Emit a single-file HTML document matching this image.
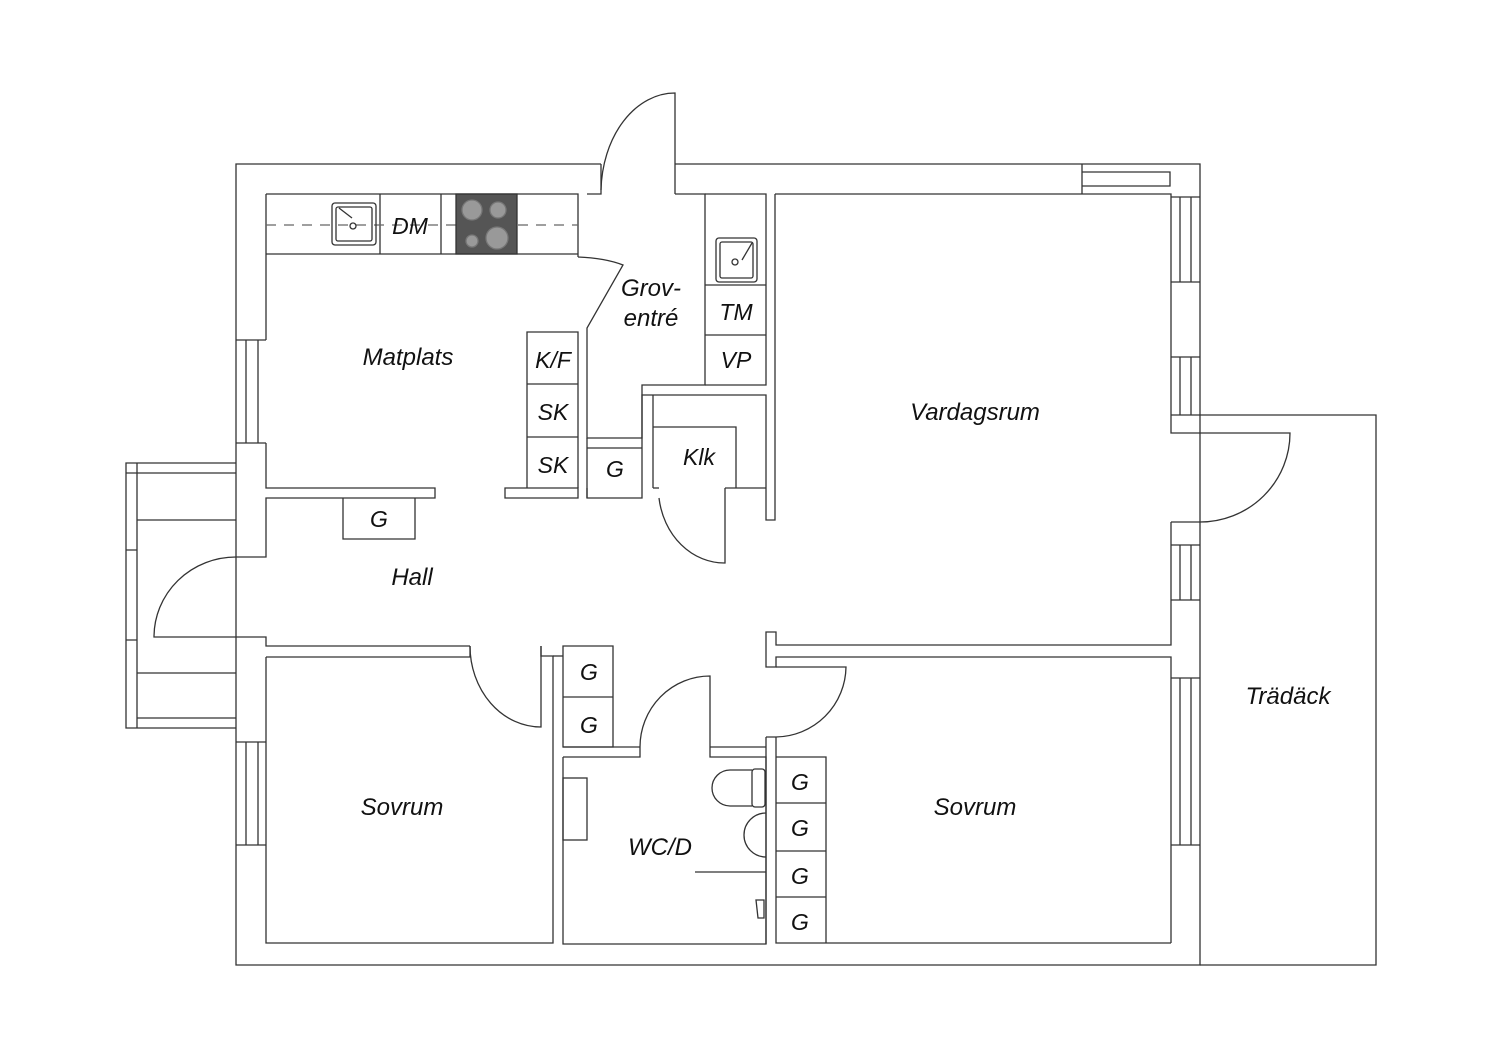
<!DOCTYPE html>
<html><head><meta charset="utf-8"><style>
html,body{margin:0;padding:0;background:#fff}
svg{display:block}
text{font-family:"Liberation Sans",sans-serif;font-style:italic;fill:#111}
</style></head><body>
<svg width="1500" height="1060" viewBox="0 0 1500 1060" xmlns="http://www.w3.org/2000/svg">
<g fill="none" stroke="#333" stroke-width="1.3">
<path d="M601,164 H236 V965 H1200 V164 H675"/>
<path d="M675,194 V93 A74,100 0 0 0 601,190"/>
<path d="M601,164 V194 H587"/>
<path d="M266,194 H578 V257"/>
<path d="M266,194 V340"/>
<path d="M266,443 V488 H435 V498 H266 V557 H236"/>
<path d="M236,340 H266 M236,443 H266 M246,340 V443 M258,340 V443"/>
<path d="M266,254 H578"/>
<path d="M380,194 V254 M441,194 V254"/>
<path d="M266,225 H578" stroke-dasharray="10,8" stroke="#666"/>
<rect x="332" y="203" width="44" height="42" rx="3"/>
<rect x="336" y="207" width="36" height="34" rx="2"/>
<circle cx="353" cy="226" r="3"/>
<path d="M339,208 L352,218"/>
<rect x="456" y="194" width="61" height="60" fill="#555" stroke="#333"/>
<circle cx="472" cy="210" r="10" fill="#999" stroke="#777"/>
<circle cx="498" cy="210" r="8" fill="#999" stroke="#777"/>
<circle cx="472" cy="241" r="6" fill="#999" stroke="#777"/>
<circle cx="497" cy="238" r="11" fill="#999" stroke="#777"/>
<path d="M578,257 Q605,258 623,265 L587,328 V438 H642 V385 H705 V194 H675"/>
<path d="M705,194 H766 V385 H705"/>
<path d="M705,285 H766 M705,335 H766"/>
<rect x="716" y="238" width="41" height="44" rx="3"/>
<rect x="720" y="242" width="33" height="36" rx="2"/>
<circle cx="735" cy="262" r="3"/>
<path d="M742,260 L752,243"/>
<path d="M527,488 V332 H578 V488 M527,384 H578 M527,437 H578"/>
<path d="M505,488 H578 V498 H505 Z"/>
<path d="M587,448 H642 M587,488 V498 H642 V395 H766 V520 H775 V194"/>
<path d="M587,438 V498"/>
<path d="M653,395 V488 M653,427 H736 V488 M725,488 H766"/>
<path d="M653,488 H659"/>
<path d="M725,488 V563 A66,75 0 0 1 659,498"/>
<path d="M343,498 V539 H415 V498"/>
<path d="M775,194 H1171 V433 H1200 M1171,522 H1200 M1171,522 V645 H776 V632 H766 V667 H776 V657 H1171 V943"/>
<path d="M1082,164 V194 M1082,172 H1170 V186 H1082"/>
<path d="M1171,197 H1200 M1171,282 H1200 M1180,197 V282 M1191,197 V282"/>
<path d="M1171,357 H1200 M1171,415 H1200 M1180,357 V415 M1191,357 V415"/>
<path d="M1171,545 H1200 M1171,600 H1200 M1180,545 V600 M1191,545 V600"/>
<path d="M1171,678 H1200 M1171,845 H1200 M1180,678 V845 M1191,678 V845"/>
<path d="M1200,415 H1376 V965 H1200"/>
<path d="M1200,433 H1290 A90,89 0 0 1 1200,522"/>
<path d="M236,463 H126 V728 H236 M137,463 V728 M137,520 H236 M137,673 H236 M137,718 H236 M126,473 H236 M126,550 H137 M126,640 H137"/>
<path d="M236,557 A82,80 0 0 0 154,637 H266 V646 H470"/>
<path d="M266,657 V943 H553 V656 H541 V646"/>
<path d="M266,657 H470 V646"/>
<path d="M541,646 V727 A71,81 0 0 1 470,646"/>
<path d="M563,646 H613 V747 H563 Z M563,697 H613"/>
<path d="M553,656 H563"/>
<path d="M563,747 H640 M563,757 H640 V747 M640,747 A70,71 0 0 1 710,676 V757 H766 V944 H563 V757"/>
<path d="M710,747 H766"/>
<rect x="563" y="778" width="24" height="62"/>
<path d="M752,770 H730 A18,18 0 0 0 730,806 H752"/>
<rect x="752" y="769" width="13" height="38" rx="3"/>
<path d="M766,813 A22,22 0 0 0 766,857"/>
<path d="M695,872 H766"/>
<path d="M756,900 h8 v18 h-6 z"/>
<path d="M766,737 V944 M776,737 V943 H1171"/>
<path d="M776,667 H846 A71,71 0 0 1 776,737 H766"/>
<path d="M776,757 H826 V943 M776,803 H826 M776,851 H826 M776,897 H826"/>
<path d="M236,742 H266 M236,845 H266 M246,742 V845 M258,742 V845"/>
</g>
<g font-size="24">
<text x="408" y="365" text-anchor="middle">Matplats</text>
<text x="975" y="420" text-anchor="middle">Vardagsrum</text>
<text x="412" y="585" text-anchor="middle">Hall</text>
<text x="402" y="815" text-anchor="middle">Sovrum</text>
<text x="975" y="815" text-anchor="middle">Sovrum</text>
<text x="1288" y="704" text-anchor="middle">Trädäck</text>
<text x="660" y="855" text-anchor="middle">WC/D</text>
<text x="651" y="296" text-anchor="middle">Grov-</text>
<text x="651" y="326" text-anchor="middle">entré</text>
</g>
<g font-size="23" text-anchor="middle">
<text x="410" y="234">DM</text>
<text x="736" y="320">TM</text>
<text x="736" y="368">VP</text>
<text x="553" y="368">K/F</text>
<text x="553" y="420">SK</text>
<text x="553" y="473">SK</text>
<text x="615" y="477">G</text>
<text x="699" y="465">Klk</text>
<text x="379" y="527">G</text>
<text x="589" y="680">G</text>
<text x="589" y="733">G</text>
<text x="800" y="790">G</text>
<text x="800" y="836">G</text>
<text x="800" y="884">G</text>
<text x="800" y="930">G</text>
</g>
</svg>
</body></html>
